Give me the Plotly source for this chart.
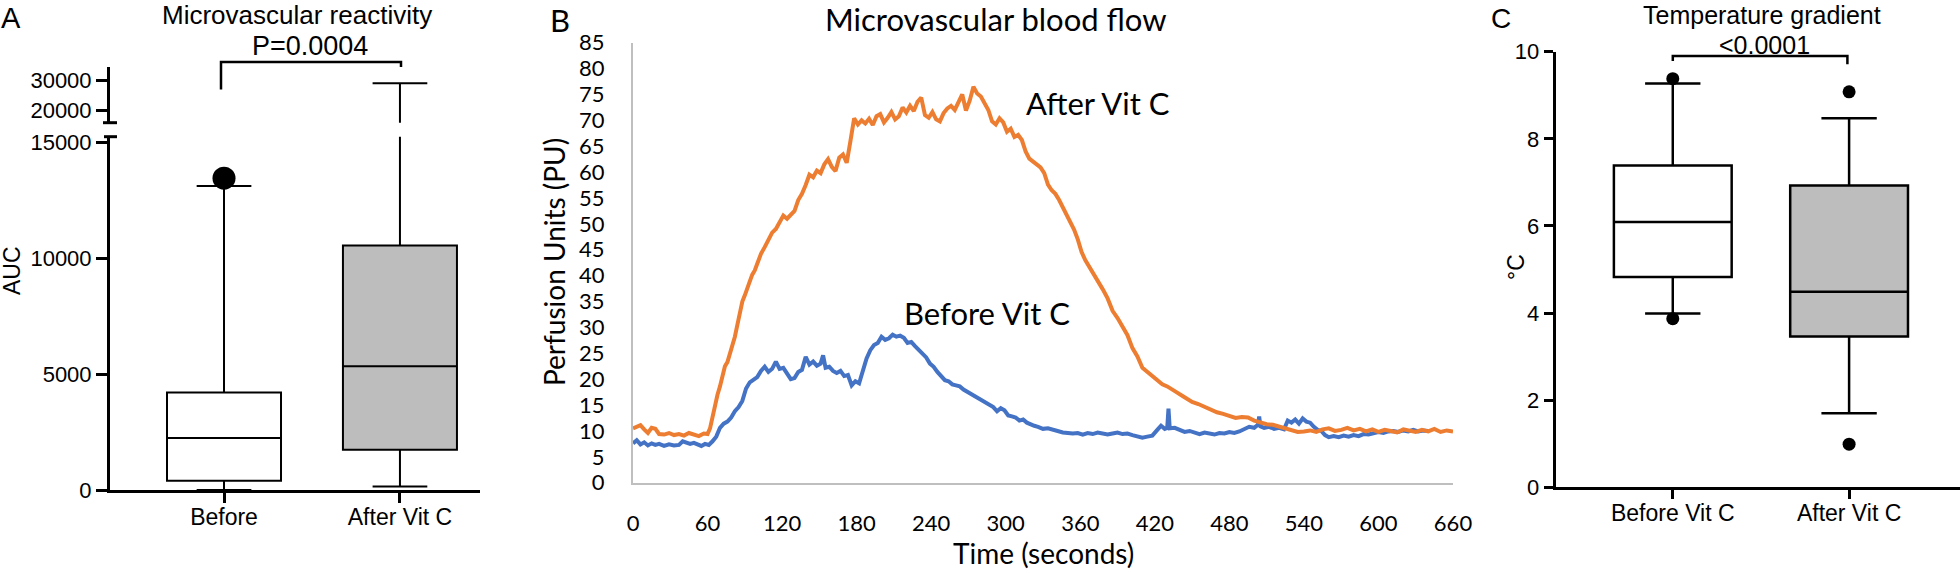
import plotly.graph_objects as go

W, H = 1960, 573

# ---------------- data ----------------
# Panel A: microvascular reactivity (AUC)
A_GROUPS = ["Before", "After Vit C"]
A_Q1 = [400, 1740]
A_MEDIAN = [2250, 5340]
A_Q3 = [4210, 10560]
A_LOW = [0, 150]
A_HIGH = [13130, 29100]
A_OUTLIERS = [13470]          # Before group
A_YTICKS_LOW = [0, 5000, 10000, 15000]
A_YTICKS_HIGH = [20000, 30000]

# Panel B: blood flow traces (PU vs seconds)
T_AFTER = [0, 3, 6, 9, 12, 15, 18, 21, 25, 29, 33, 37, 41, 45, 49, 53, 57, 60, 62, 64,
           66, 68, 70, 72, 74, 76, 78, 80, 82, 84, 86, 88, 90, 92, 94, 96, 98, 100, 103, 106,
           109, 112, 115, 118, 121, 124, 127, 130, 133, 136, 139, 142, 145, 148, 151, 154, 157, 160, 163, 166,
           169, 172, 175, 178, 181, 184, 187, 190, 193, 196, 199, 202, 205, 208, 211, 214, 217, 220, 223, 226,
           229, 232, 235, 238, 241, 244, 247, 250, 253, 256, 259, 262, 265, 268, 271, 274, 277, 280, 283, 286,
           289, 292, 295, 298, 301, 304, 307, 310, 313, 316, 319, 322, 325, 328, 331, 334, 337, 340, 343, 346,
           349, 352, 355, 358, 361, 364, 367, 370, 374, 378, 382, 386, 390, 394, 398, 402, 406, 410, 414, 418,
           422, 426, 430, 434, 438, 442, 446, 450, 455, 460, 465, 470, 475, 480, 485, 490, 495, 500, 505, 510,
           515, 520, 525, 530, 535, 540, 545, 550, 555, 560, 565, 570, 575, 580, 585, 590, 595, 600, 605, 610,
           615, 620, 625, 630, 635, 640, 645, 650, 655, 660]
V_AFTER = [10.5, 10.9, 11.1, 10.3, 9.6, 10.6, 10.4, 9.4, 9.3, 9.6, 9.2, 9.4, 9.1, 9.6, 9.2, 9.0, 9.5, 9.4, 10.5, 12.8,
           15.0, 17.0, 18.6, 20.5, 22.5, 23.3, 25.0, 26.0, 28.2, 30.5, 32.8, 35.0, 36.2, 37.8, 38.9, 40.2, 41.0, 42.3, 44.2, 45.5,
           46.8, 48.3, 49.0, 50.2, 51.6, 51.0, 51.8, 52.5, 54.6, 55.8, 57.5, 59.5, 59.0, 60.3, 59.8, 61.5, 62.5, 61.0, 60.2, 62.8,
           63.4, 61.8, 66.0, 70.4, 69.2, 70.0, 69.4, 70.3, 69.1, 70.8, 71.2, 69.6, 70.5, 71.6, 70.2, 70.8, 72.5, 71.5, 72.8, 71.8,
           73.6, 74.4, 71.0, 70.5, 71.6, 70.2, 69.8, 71.4, 72.3, 72.8, 72.0, 73.5, 75.0, 71.9, 73.8, 76.5, 75.2, 74.6, 73.2, 72.0,
           69.8, 69.2, 70.4, 69.6, 67.8, 68.4, 66.8, 67.2, 66.2, 64.0, 62.6, 62.0, 61.5, 60.9, 59.8, 57.6, 56.5, 55.8, 54.6, 53.2,
           51.6, 50.5, 48.9, 47.0, 44.6, 43.0, 41.8, 40.6, 39.2, 37.4, 35.6, 33.2, 31.8, 30.0, 28.5, 26.0, 24.4, 22.2, 21.4, 20.4,
           19.8, 19.0, 18.6, 17.9, 17.4, 16.8, 16.2, 15.6, 15.2, 14.6, 14.2, 13.6, 13.3, 12.9, 12.5, 12.7, 12.6, 12.0, 11.6, 11.3,
           11.2, 10.8, 10.4, 10.2, 9.8, 9.9, 10.1, 9.8, 10.3, 10.5, 10.0, 10.2, 10.6, 10.1, 10.4, 9.9, 10.3, 9.8, 10.2, 10.0,
           9.7, 10.3, 10.0, 9.8, 10.2, 9.9, 10.4, 9.8, 10.1, 9.9]

T_BEFORE = [0, 3, 6, 9, 12, 15, 18, 21, 25, 29, 33, 37, 40, 43, 46, 49, 52, 55, 58, 61,
            64, 67, 70, 73, 76, 79, 82, 85, 88, 91, 94, 97, 100, 103, 106, 109, 112, 115, 118, 121,
            124, 127, 130, 133, 136, 139, 142, 145, 148, 151, 153, 155, 158, 161, 164, 167, 170, 173, 176, 179,
            182, 185, 188, 191, 194, 197, 200, 203, 206, 209, 212, 215, 218, 221, 224, 227, 230, 233, 236, 239,
            242, 245, 248, 251, 254, 257, 260, 263, 266, 269, 272, 275, 278, 281, 284, 287, 290, 293, 296, 299,
            302, 305, 308, 311, 314, 317, 320, 323, 326, 330, 334, 338, 342, 346, 350, 354, 358, 362, 366, 370,
            374, 378, 382, 386, 390, 394, 398, 402, 406, 410, 414, 418, 422, 425, 428, 430, 431, 432, 436, 440,
            444, 448, 452, 456, 460, 464, 468, 472, 476, 480, 484, 488, 492, 496, 500, 503, 504, 505, 508, 512,
            516, 520, 524, 527, 530, 533, 536, 539, 542, 545, 548, 551, 554, 557, 560, 564, 568, 572, 576, 580,
            584, 588, 592, 596, 600, 604, 608, 612, 616, 620, 624, 628, 632, 636, 640]
V_BEFORE = [7.6, 8.2, 7.4, 7.8, 7.2, 7.6, 7.3, 7.5, 7.1, 7.4, 7.2, 7.3, 8.0, 7.8, 7.5, 7.7, 7.3, 7.1, 7.5, 7.3,
            8.0, 8.9, 10.6, 11.4, 11.8, 12.6, 13.8, 14.6, 15.8, 18.2, 19.4, 19.8, 20.4, 21.6, 22.4, 21.4, 22.0, 23.4, 22.0, 22.2,
            21.2, 20.0, 20.2, 21.4, 21.8, 24.3, 22.8, 23.4, 22.6, 23.0, 24.6, 22.2, 22.4, 21.6, 21.2, 21.6, 20.6, 20.8, 18.8, 19.6,
            19.2, 21.6, 24.0, 25.6, 26.6, 27.0, 28.2, 27.6, 27.9, 28.6, 28.2, 28.4, 28.0, 27.0, 27.2, 26.4, 25.6, 24.8, 24.2, 23.0,
            22.4, 21.4, 20.6, 19.8, 19.6, 19.0, 18.8, 18.6, 18.0, 17.6, 17.0, 16.6, 16.2, 15.8, 15.6, 15.2, 14.6, 13.8, 14.4, 14.0,
            13.0, 12.8, 12.6, 12.0, 12.2, 11.6, 11.2, 11.0, 10.8, 10.4, 10.5, 10.2, 10.0, 9.7, 9.6, 9.5, 9.6, 9.3, 9.6, 9.4,
            9.7, 9.5, 9.3, 9.5, 9.7, 9.4, 9.5, 9.2, 9.0, 8.7, 8.9, 9.1, 10.2, 11.0, 10.4, 10.6, 14.3, 10.5, 10.6, 10.2,
            9.8, 10.0, 9.6, 9.4, 9.7, 9.5, 9.3, 9.6, 9.5, 9.8, 9.6, 9.9, 10.4, 10.8, 10.6, 11.2, 12.8, 10.9, 10.6, 10.8,
            10.4, 10.6, 10.3, 12.0, 11.6, 12.2, 11.4, 12.4, 11.8, 11.6, 10.8, 10.2, 10.0, 9.2, 8.8, 9.0, 8.8, 9.1, 8.9, 9.2,
            9.0, 9.4, 9.3, 9.6, 9.8, 9.6, 9.9, 10.0, 9.8, 10.1, 9.9, 10.2, 9.9, 10.1, 10.0]
B_XTICKS = [0, 60, 120, 180, 240, 300, 360, 420, 480, 540, 600, 660]
B_YTICKS = [0, 5, 10, 15, 20, 25, 30, 35, 40, 45, 50, 55, 60, 65, 70, 75, 80, 85]

# Panel C: temperature gradient
C_GROUPS = ["Before Vit C", "After Vit C"]
C_Q1 = [4.83, 3.46]
C_MEDIAN = [6.09, 4.49]
C_Q3 = [7.39, 6.93]
C_LOW = [3.99, 1.70]
C_HIGH = [9.27, 8.47]
C_OUT_X = [0, 0, 1, 1]
C_OUT_Y = [9.38, 3.87, 9.08, 0.99]
C_YTICKS = [0, 2, 4, 6, 8, 10]


# ---------------- helpers ----------------
def PX(x):
    return x / W


def PY(y):
    return 1 - y / H


ARIAL = "Liberation Sans, Arial, sans-serif"
CALI = "Lato, Carlito, Calibri, sans-serif"
ORANGE = "#ED7D31"
BLUE = "#4472C4"
GREY = "#bfbfbf"

fig = go.Figure()

# ---- Panel A boxes (lower segment) ----
for i in range(2):
    fig.add_trace(go.Box(
        x=[i], q1=[A_Q1[i]], median=[A_MEDIAN[i]], q3=[A_Q3[i]],
        lowerfence=[A_LOW[i]], upperfence=[A_HIGH[i]],
        width=0.648, whiskerwidth=0.48, boxpoints=False,
        fillcolor="white" if i == 0 else "#bdbdbd",
        line=dict(color="black", width=2),
        xaxis="x", yaxis="y", hoverinfo="skip", showlegend=False))
# upper segment (whisker of After across the break)
fig.add_trace(go.Box(
    x=[1], q1=[A_Q1[1]], median=[A_MEDIAN[1]], q3=[A_Q3[1]],
    lowerfence=[A_LOW[1]], upperfence=[A_HIGH[1]],
    width=0.648, whiskerwidth=0.48, boxpoints=False,
    fillcolor="#bdbdbd", line=dict(color="black", width=2),
    xaxis="x", yaxis="y2", hoverinfo="skip", showlegend=False))
fig.add_trace(go.Scatter(
    x=[0] * len(A_OUTLIERS), y=A_OUTLIERS, mode="markers",
    marker=dict(color="black", size=23), xaxis="x", yaxis="y",
    hoverinfo="skip", showlegend=False))

# ---- Panel B traces ----
fig.add_trace(go.Scatter(x=T_BEFORE, y=V_BEFORE, mode="lines",
                         line=dict(color=BLUE, width=4), xaxis="x2", yaxis="y3",
                         name="Before Vit C", showlegend=False))
fig.add_trace(go.Scatter(x=T_AFTER, y=V_AFTER, mode="lines",
                         line=dict(color=ORANGE, width=4), xaxis="x2", yaxis="y3",
                         name="After Vit C", showlegend=False))

# ---- Panel C boxes ----
for i in range(2):
    fig.add_trace(go.Box(
        x=[i], q1=[C_Q1[i]], median=[C_MEDIAN[i]], q3=[C_Q3[i]],
        lowerfence=[C_LOW[i]], upperfence=[C_HIGH[i]],
        width=0.668, whiskerwidth=0.47, boxpoints=False,
        fillcolor="white" if i == 0 else "#bdbdbd",
        line=dict(color="black", width=2.5),
        xaxis="x3", yaxis="y4", hoverinfo="skip", showlegend=False))
fig.add_trace(go.Scatter(
    x=C_OUT_X, y=C_OUT_Y, mode="markers",
    marker=dict(color="black", size=13), xaxis="x3", yaxis="y4",
    hoverinfo="skip", showlegend=False))

axis_common = dict(showgrid=False, zeroline=False, fixedrange=True, automargin=False)

fig.update_layout(
    template="none",
    width=W, height=H, margin=dict(l=0, r=0, t=0, b=0, pad=0, autoexpand=False),
    paper_bgcolor="white", plot_bgcolor="white", showlegend=False,
    # Panel A
    xaxis=dict(domain=[PX(110), PX(480)], range=[-0.648, 1.455],
               tickvals=[0, 1], ticktext=A_GROUPS, ticks="outside", ticklen=10, tickwidth=3,
               tickcolor="black", showline=True, linewidth=3, linecolor="black", ticklabelstandoff=-6,
               tickfont=dict(family=ARIAL, size=23, color="black"), anchor="y", **axis_common),
    yaxis=dict(domain=[PY(490), PY(136.7)], range=[0, 15260],
               tickvals=A_YTICKS_LOW, ticktext=[str(v) for v in A_YTICKS_LOW],
               ticks="outside", ticklen=11, tickwidth=3, tickcolor="black",
               showline=True, linewidth=3, linecolor="black",
               tickfont=dict(family=ARIAL, size=22, color="black"), anchor="x", **axis_common),
    yaxis2=dict(domain=[PY(122.7), PY(66.7)], range=[15670, 34780],
                tickvals=A_YTICKS_HIGH, ticktext=[str(v) for v in A_YTICKS_HIGH],
                ticks="outside", ticklen=11, tickwidth=3, tickcolor="black",
                showline=True, linewidth=3, linecolor="black",
                tickfont=dict(family=ARIAL, size=22, color="black"), anchor="x", **axis_common),
    # Panel B
    xaxis2=dict(domain=[PX(633), PX(1453)], range=[0, 660], tickvals=B_XTICKS,
                ticktext=[str(v) for v in B_XTICKS],
                ticks="", showline=True, linewidth=2, linecolor=GREY, ticklabelstandoff=20,
                tickfont=dict(family=CALI, size=22, color="black"), anchor="y3", **axis_common),
    yaxis3=dict(domain=[PY(482.7), PY(42.7)], range=[0, 85], tickvals=B_YTICKS,
                ticktext=[str(v) for v in B_YTICKS],
                ticks="", showline=True, linewidth=2, linecolor=GREY, ticklabelstandoff=22,
                tickfont=dict(family=CALI, size=22, color="black"), anchor="x2", **axis_common),
    # Panel C
    xaxis3=dict(domain=[PX(1555.7), 1.0], range=[-0.664, 1.629],
                tickvals=[0, 1], ticktext=C_GROUPS, ticks="outside", ticklen=9, tickwidth=3,
                tickcolor="black", showline=True, linewidth=3, linecolor="black", ticklabelstandoff=-6,
                tickfont=dict(family=ARIAL, size=23, color="black"), anchor="y4", **axis_common),
    yaxis4=dict(domain=[PY(487.3), PY(51.7)], range=[0, 10],
                tickvals=C_YTICKS, ticktext=[str(v) for v in C_YTICKS],
                ticks="outside", ticklen=9, tickwidth=3, tickcolor="black",
                showline=True, linewidth=3, linecolor="black",
                tickfont=dict(family=ARIAL, size=22, color="black"), anchor="x3", **axis_common),
)


def ann(text, x, y, size, family, angle=0):
    fig.add_annotation(text=text, x=PX(x), y=PY(y), xref="paper", yref="paper",
                       showarrow=False, xanchor="center", yanchor="middle", textangle=angle,
                       font=dict(family=family, size=size, color="black"))


# Panel A texts
ann("A", 11, 18, 29, ARIAL)
ann("Microvascular reactivity", 297, 15.5, 26, ARIAL)
ann("P=0.0004", 310, 46, 27, ARIAL)
ann("AUC", 12, 271, 23, ARIAL, -90)
# Panel B texts
ann("B", 560, 20, 31, CALI)
ann("Microvascular blood flow", 996, 19, 31, CALI)
ann("Perfusion Units (PU)", 554, 262, 28, CALI, -90)
ann("Time (seconds)", 1043, 553, 28, CALI)
ann("After Vit C", 1098, 103, 31, CALI)
ann("Before Vit C", 987, 313, 31, CALI)
# Panel C texts
ann("C", 1501, 18, 28, ARIAL)
ann("Temperature gradient", 1762, 15, 25, ARIAL)
ann("<0.0001", 1764, 44.5, 25, ARIAL)
ann("°C", 1516, 267, 23, ARIAL, -90)


def seg(x0, y0, x1, y1, w=3):
    fig.add_shape(type="line", xref="paper", yref="paper",
                  x0=PX(x0), y0=PY(y0), x1=PX(x1), y1=PY(y1),
                  line=dict(color="black", width=w))


# axis break caps (panel A)
seg(103, 122.7, 117, 122.7)
seg(104, 136.7, 117, 136.7)

# significance brackets
fig.add_shape(type="path", xref="paper", yref="paper",
              path=f"M {PX(221)},{PY(89.5)} L {PX(221)},{PY(62)} L {PX(401)},{PY(62)} L {PX(401)},{PY(67)}",
              line=dict(color="black", width=2.5))
fig.add_shape(type="path", xref="paper", yref="paper",
              path=f"M {PX(1672.8)},{PY(61)} L {PX(1672.8)},{PY(56)} L {PX(1847.4)},{PY(56)} L {PX(1847.4)},{PY(64.3)}",
              line=dict(color="black", width=2.5))

fig.write_html(
    "out.html",
    config={"displayModeBar": False},
    post_script="document.body.style.margin='0';document.body.style.overflow='hidden';",
)
